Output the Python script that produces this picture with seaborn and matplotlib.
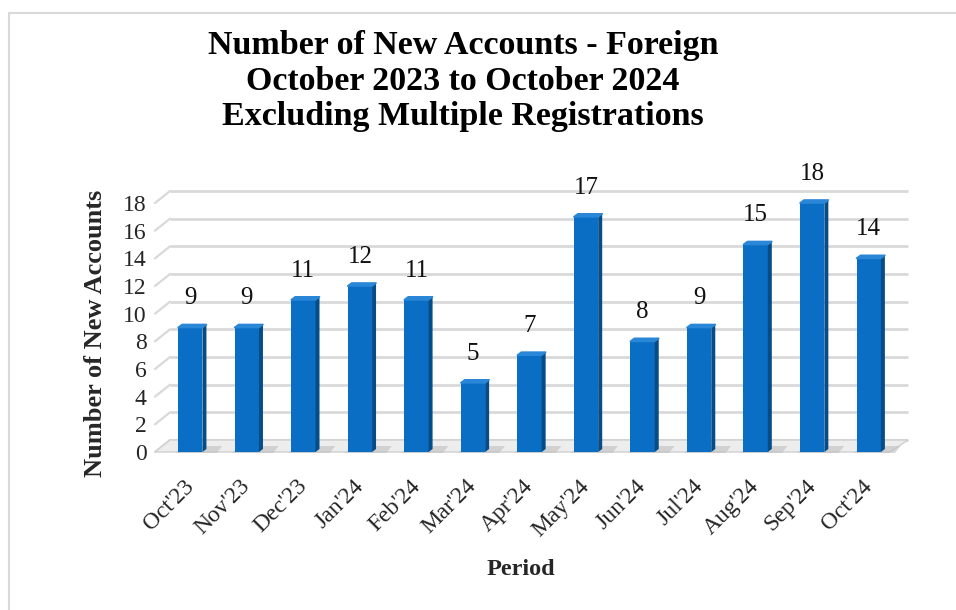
import matplotlib
matplotlib.use("Agg")
import matplotlib.pyplot as plt
import matplotlib.transforms as mtransforms
from matplotlib.patches import Polygon, Rectangle
import seaborn as sns
import pandas as pd

periods = ["Oct'23", "Nov'23", "Dec'23", "Jan'24", "Feb'24", "Mar'24", "Apr'24",
           "May'24", "Jun'24", "Jul'24", "Aug'24", "Sep'24", "Oct'24"]
accounts = [9, 9, 11, 12, 11, 5, 7, 17, 8, 9, 15, 18, 14]
y_ticks = [0, 2, 4, 6, 8, 10, 12, 14, 16, 18]

title = ("Number of New Accounts - Foreign\n"
         "October 2023 to October 2024\n"
         "Excluding Multiple Registrations")

df = pd.DataFrame({"Period": periods, "Accounts": accounts})

sns.set_theme(style="white")
SERIF = ["Liberation Serif", "DejaVu Serif"]
plt.rcParams["font.family"] = SERIF

W, H = 956, 610
fig = plt.figure(figsize=(W / 100, H / 100), dpi=100)
ax = fig.add_axes([162 / W, 1 - 452 / H, (897 - 162) / W, (452 - 203) / H])

BLUE = "#0A6EC4"
SIDE = "#064C86"
TOP = "#2A86D6"

sns.barplot(data=df, x="Period", y="Accounts", color=BLUE, width=0.43,
            saturation=1, ax=ax, zorder=3, edgecolor=BLUE, linewidth=0)

ax.set_xlim(-0.5, len(periods) - 0.5)
ax.set_ylim(0, 18)
ax.set_yticks(y_ticks)
ax.set_yticklabels([str(t) for t in y_ticks], fontsize=17)
for s in ax.spines.values():
    s.set_visible(False)
ax.tick_params(axis="both", length=0)
ax.tick_params(axis="y", pad=11)
ax.set_xticks(range(len(periods)))
ax.set_xticklabels(periods, rotation=45, ha="right", rotation_mode="anchor",
                   fontsize=17)
ax.tick_params(axis="x", pad=17)
shift = mtransforms.ScaledTranslation(-0.07, 0, fig.dpi_scale_trans)
for lbl in ax.get_xticklabels():
    lbl.set_transform(lbl.get_transform() + shift)

# back wall gridlines (3D look): offset up and right
GRID = "#D9D9D9"
back = mtransforms.blended_transform_factory(ax.transAxes, ax.transData) + \
    mtransforms.ScaledTranslation(0, 0.12, fig.dpi_scale_trans)
front = mtransforms.blended_transform_factory(ax.transAxes, ax.transData)
xl = (155 - 162) / 735
xb = (170 - 162) / 735
xr = (908 - 162) / 735
for t in y_ticks:
    ax.plot([xb, xr], [t, t], transform=back, color=GRID, lw=2.0,
            clip_on=False, zorder=0, solid_capstyle="butt")
    p0 = front.transform((xl, t))
    p1 = back.transform((xb, t))
    ax.plot([p0[0], p1[0]], [p0[1], p1[1]], transform=None, color=GRID,
            lw=1.6, clip_on=False, zorder=0)

# floor
fr = (890 - 162) / 735
floor_pts = [front.transform((xl, 0)), front.transform((fr, 0)),
             back.transform((xr, 0)), back.transform((xb, 0))]
ax.add_patch(Polygon(floor_pts, closed=True, transform=None, facecolor="#EDEDED",
                     edgecolor="#D0D0D0", lw=1.0, zorder=1, clip_on=False))

# 3D side and top faces for each bar derived from the drawn patches
dx_px, dy_px = 4.0, 3.0
bars = [p for p in ax.patches if isinstance(p, Rectangle) and p.get_height() > 0]
for p in bars:
    x0 = p.get_x()
    x1, h = x0 + p.get_width(), p.get_height()
    a0 = ax.transData.transform((x1, 0))
    a1 = ax.transData.transform((x1, h))
    b0 = ax.transData.transform((x0, h))
    sh = [ax.transData.transform((x0 - 0.05, 0)) + [0, -1],
          ax.transData.transform((x1 + 0.25, 0)) + [0, -1],
          ax.transData.transform((x1 + 0.35, 0)) + [0, 6],
          ax.transData.transform((x0 + 0.1, 0)) + [0, 6]]
    ax.add_patch(Polygon(sh, closed=True, transform=None, facecolor="#BFBFBF",
                         edgecolor="none", alpha=0.6, zorder=2, clip_on=False))
    side = [a0, a1, a1 + [dx_px, dy_px], a0 + [dx_px, dy_px]]
    ax.add_patch(Polygon(side, closed=True, transform=None, facecolor=SIDE,
                         edgecolor="none", zorder=4, clip_on=False))
    top = [b0, a1, a1 + [dx_px, dy_px], b0 + [dx_px, dy_px]]
    ax.add_patch(Polygon(top, closed=True, transform=None, facecolor=TOP,
                         edgecolor=TOP, lw=1.2, joinstyle="round", zorder=4,
                         clip_on=False))

# data labels
for i, v in enumerate(accounts):
    ax.annotate(str(v), (i, v), xytext=(0, 21), textcoords="offset points",
                ha="center", va="center", fontsize=18, color="#111111",
                annotation_clip=False, zorder=5)

ax.set_ylabel("Number of New Accounts", fontsize=19, fontweight="bold")
ax.set_xlabel("Period", fontsize=17.5, fontweight="bold")
ax.xaxis.set_label_coords((521 - 162) / 735, -(559 - 452) / 249)
ax.yaxis.set_label_coords(-(162 - 107) / 735, (452 - 333) / 249)

fig.text(463 / W, 1 - 81 / H, title, ha="center", va="center", fontsize=24.5,
         fontweight="bold", linespacing=1.17, color="black")

# chart border
fig.add_artist(plt.Line2D([8.5 / W, 8.5 / W], [0, 1 - 13 / H], transform=fig.transFigure,
                          color="#D9D9D9", lw=1.5))
fig.add_artist(plt.Line2D([8.5 / W, 1], [1 - 13 / H, 1 - 13 / H], transform=fig.transFigure,
                          color="#D9D9D9", lw=1.5))

fig.savefig("out.png", dpi=100, facecolor="white")
